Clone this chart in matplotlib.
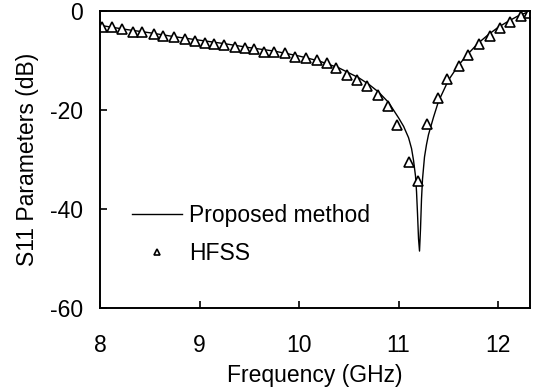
import matplotlib
matplotlib.use('Agg')
import matplotlib.pyplot as plt

# HFSS simulation points (GHz, dB)
hfss_freq = [8.02, 8.12, 8.22, 8.33, 8.42, 8.54, 8.63, 8.74, 8.85, 8.95,
             9.05, 9.15, 9.25, 9.36, 9.46, 9.55, 9.65, 9.75, 9.86, 9.96,
             10.07, 10.18, 10.28, 10.37, 10.48, 10.58, 10.68, 10.79, 10.89, 10.98,
             11.10, 11.19, 11.29, 11.40, 11.49, 11.61, 11.70, 11.81, 11.92, 12.02,
             12.12, 12.23, 12.31]
hfss_s11 = [-3.2, -3.3, -3.7, -4.2, -4.3, -4.7, -5.0, -5.3, -5.6, -6.0,
            -6.4, -6.6, -6.8, -7.2, -7.5, -7.7, -8.2, -8.3, -8.5, -9.3,
            -9.5, -10.0, -10.5, -11.6, -12.9, -13.9, -15.1, -16.9, -19.1, -23.0,
            -30.6, -34.4, -22.8, -17.6, -13.8, -11.2, -8.9, -6.7, -5.0, -3.5,
            -2.2, -1.0, -0.4]

# proposed method curve
prop_freq = [8.0, 8.25, 8.5, 8.75, 9.0, 9.25, 9.5, 9.75, 10.0, 10.2,
             10.4, 10.6, 10.7, 10.8, 10.9, 11.0, 11.05, 11.1, 11.13, 11.15,
             11.17, 11.18, 11.19, 11.2, 11.21, 11.22, 11.23, 11.24, 11.26, 11.28,
             11.3, 11.35, 11.4, 11.5, 11.6, 11.7, 11.8, 11.9, 12.0, 12.1,
             12.2, 12.3]
prop_s11 = [-2.9, -3.7, -4.4, -5.2, -5.9, -6.6, -7.4, -8.1, -9.1, -10.1,
            -11.5, -13.5, -14.8, -16.4, -18.5, -21.6, -23.3, -25.6, -27.8, -30.2,
            -33.4, -36.5, -41.0, -46.0, -48.5, -44.0, -38.0, -34.0, -29.5, -27.0,
            -25.0, -21.5, -18.3, -14.0, -11.0, -8.6, -6.5, -4.8, -3.3, -2.1,
            -1.0, -0.2]

plt.rcParams['font.family'] = ['Liberation Sans', 'DejaVu Sans']
plt.rcParams['font.size'] = 16.5
plt.rcParams['axes.unicode_minus'] = False

fig = plt.figure(figsize=(5.34, 3.91), dpi=100)
ax = fig.add_axes([0.1873, 0.2123, 0.8052, 0.7596])

ax.plot(prop_freq, prop_s11, color='black', linewidth=1.0, label='Proposed method')
ax.plot(hfss_freq, hfss_s11, linestyle='none', marker='^', markersize=7.5,
        markerfacecolor='white', markeredgecolor='black', markeredgewidth=1.2,
        label='HFSS')

ax.set_xlim(8, 12.32)
ax.set_ylim(-60, 0)
ax.set_xticks([8, 9, 10, 11, 12])
ax.set_yticks([-60, -40, -20, 0])
ax.tick_params(direction='in', length=5, width=1.2, top=False, right=False)
ax.tick_params(axis='x', pad=19)
ax.tick_params(axis='y', pad=12)
for s in ax.spines.values():
    s.set_linewidth(1.4)

ax.set_xlabel('Frequency (GHz)', labelpad=5)
ax.set_ylabel('S11 Parameters (dB)', labelpad=8)

leg = ax.legend(loc='upper left', bbox_to_anchor=(0.0744, 0.35), frameon=False,
                handlelength=2.2, handletextpad=0.3, labelspacing=0.65,
                borderpad=0, borderaxespad=0, markerscale=0.65)

plt.savefig('out.png', dpi=100)
